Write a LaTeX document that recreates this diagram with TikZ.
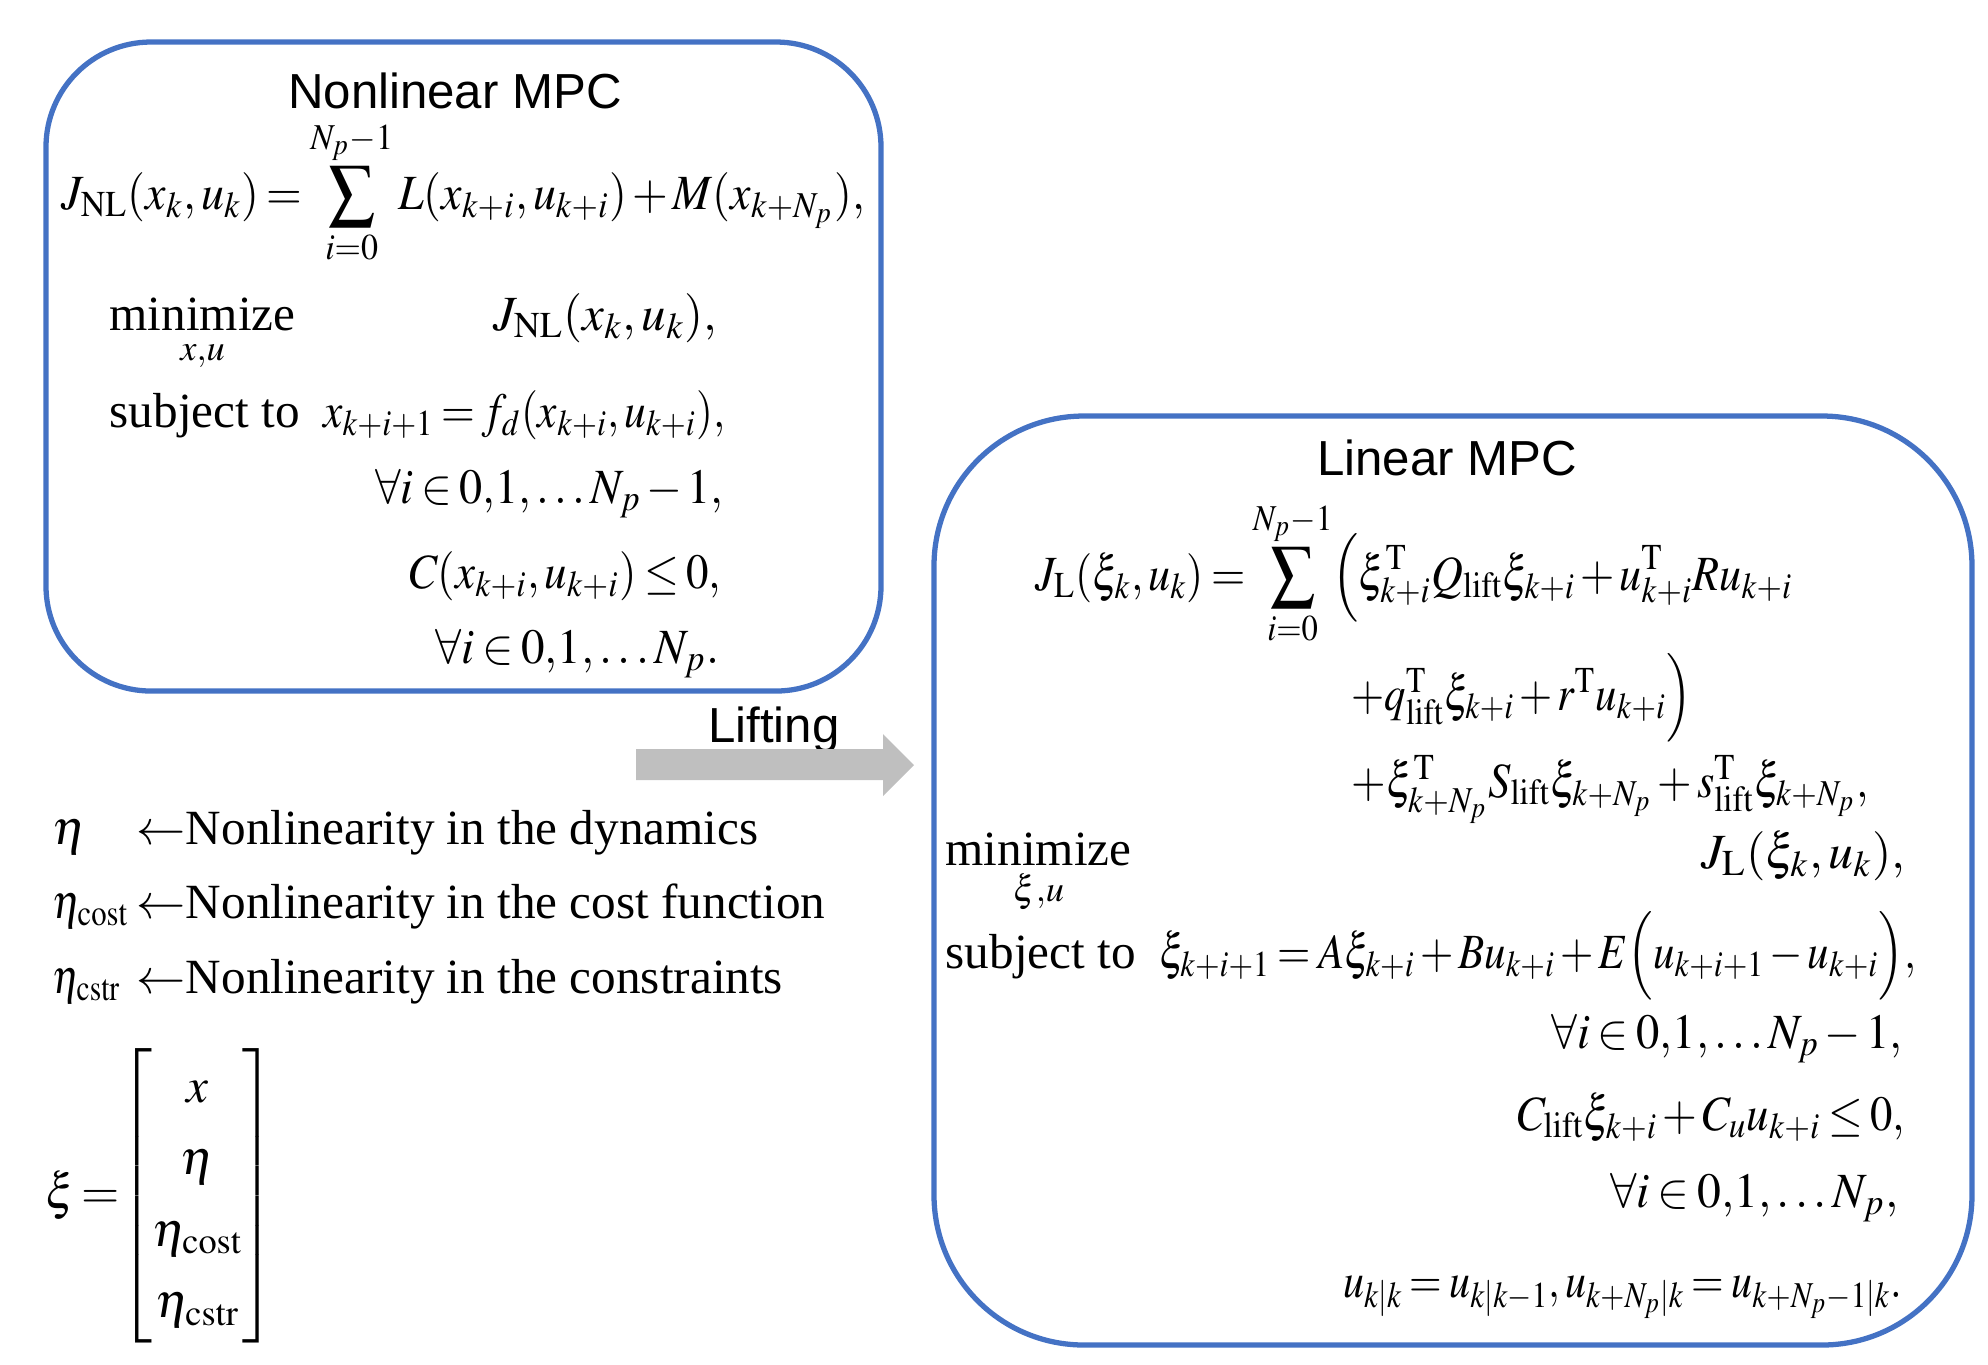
\documentclass[tikz,border=0pt]{standalone}
\usepackage{amsmath}
\usepackage{mathptmx}
\usepackage[no-math]{fontspec}
\setmainfont{Liberation Serif}
\setsansfont{Liberation Sans}
\usepackage{graphicx}
\usepackage{tikz}

\definecolor{boxblue}{HTML}{4472C4}
\definecolor{arrowgray}{HTML}{BFBFBF}

\thickmuskip=3mu plus 2mu
\medmuskip=2mu plus 1mu
\newcommand{\eqwidth}[2]{\resizebox{#1}{\height}{#2}}

\begin{document}
\begin{tikzpicture}[
  mpcbox/.style={draw=boxblue, line width=1.5pt, rounded corners=1.05cm, shape=rectangle},
  title/.style={font=\sffamily\fontsize{14}{17}\selectfont, inner sep=0pt},
  eq/.style={font=\fontsize{14}{17}\selectfont, inner sep=0pt},
]
\useasboundingbox (0,0) rectangle (19.88,-13.64);

\node[mpcbox, minimum width=8.35cm, minimum height=6.49cm] (nlbox) at (4.635,-3.665) {};
\node[mpcbox, rounded corners=1.5cm, minimum width=10.38cm, minimum height=9.29cm] (lbox) at (14.53,-8.805) {};

\node[title, anchor=base] (nltitle) at (4.55,-1.08) {Nonlinear MPC};
\node[eq, anchor=base west] (nlcost) at (0.61,-2.09) {\eqwidth{8.03cm}{$\displaystyle J_{\mathrm{NL}}(x_k,u_k)=\sum_{i=0}^{N_p-1}L(x_{k+i},u_{k+i})+M(x_{k+N_p}),$}};
\node[eq, anchor=base west] (nlmin) at (1.09,-3.30) {$\underset{x,u}{\text{minimize}}$};
\node[eq, anchor=base east] (nlobj) at (7.18,-3.30) {\eqwidth{2.24cm}{$J_{\mathrm{NL}}(x_k,u_k),$}};
\node[eq, anchor=base west] (nlsubj) at (1.09,-4.27) {subject to};
\node[eq, anchor=base east] (nldyn) at (7.26,-4.27) {\eqwidth{4.02cm}{$x_{k+i+1}=f_d(x_{k+i},u_{k+i}),$}};
\node[eq, anchor=base east] (nldynrange) at (7.24,-5.03) {\eqwidth{3.48cm}{$\forall i\in 0{,}1{,}\ldots N_p-1,$}};
\node[eq, anchor=base east] (nlcstr) at (7.22,-5.88) {\eqwidth{3.12cm}{$C(x_{k+i},u_{k+i})\le 0,$}};
\node[eq, anchor=base east] (nlcstrrange) at (7.20,-6.63) {\eqwidth{2.84cm}{$\forall i\in 0{,}1{,}\ldots N_p.$}};

\node[title, anchor=base] (lifting) at (7.74,-7.42) {Lifting};
\fill[arrowgray] (6.36,-7.49) -- (8.83,-7.49) -- (8.83,-7.34) -- (9.14,-7.65) -- (8.83,-7.96) -- (8.83,-7.80) -- (6.36,-7.80) -- cycle;

\node[eq, anchor=base west] (etadyn) at (0.52,-8.44) {\makebox[0.84cm][l]{$\eta$}$\leftarrow$Nonlinearity in the dynamics};
\node[eq, anchor=base west] (etacost) at (0.52,-9.18) {\makebox[0.84cm][l]{\eqwidth{0.76cm}{$\eta_{\mathrm{cost}}$}}$\leftarrow$Nonlinearity in the cost function};
\node[eq, anchor=base west] (etacstr) at (0.52,-9.93) {\makebox[0.84cm][l]{\eqwidth{0.68cm}{$\eta_{\mathrm{cstr}}$}}$\leftarrow$Nonlinearity in the constraints};
\node[eq, anchor=west] (xidef) at (0.45,-11.96) {\renewcommand{\arraystretch}{1.2}\setlength{\arraycolsep}{7pt}$\xi\,{=}\!\begin{bmatrix}x\\ \eta\\ \eta_{\mathrm{cost}}\\ \eta_{\mathrm{cstr}}\end{bmatrix}$};

\node[title, anchor=base] (ltitle) at (14.47,-4.75) {Linear MPC};
\node[eq, anchor=base west] (lcost) at (10.35,-5.90) {\eqwidth{7.57cm}{$\displaystyle J_{\mathrm{L}}(\xi_k,u_k)=\sum_{i=0}^{N_p-1}\Bigl(\xi_{k+i}^{\mathrm{T}}Q_{\mathrm{lift}}\xi_{k+i}+u_{k+i}^{\mathrm{T}}Ru_{k+i}$}};
\node[eq, anchor=base west] (lcostb) at (13.51,-7.10) {\eqwidth{3.40cm}{$+q_{\mathrm{lift}}^{\mathrm{T}}\xi_{k+i}+r^{\mathrm{T}}u_{k+i}\Bigr)$}};
\node[eq, anchor=base west] (lcostc) at (13.51,-7.97) {\eqwidth{5.17cm}{$+\xi_{k+N_p}^{\mathrm{T}}S_{\mathrm{lift}}\xi_{k+N_p}+s_{\mathrm{lift}}^{\mathrm{T}}\xi_{k+N_p},$}};
\node[eq, anchor=base west] (lmin) at (9.45,-8.65) {$\underset{\xi,u}{\text{minimize}}$};
\node[eq, anchor=base east] (lobj) at (19.06,-8.68) {\eqwidth{2.04cm}{$J_{\mathrm{L}}(\xi_k,u_k),$}};
\node[eq, anchor=base west] (lsubj) at (9.45,-9.68) {subject to};
\node[eq, anchor=base east] (ldyn) at (19.17,-9.68) {\eqwidth{7.57cm}{$\xi_{k+i+1}=A\xi_{k+i}+Bu_{k+i}+E\Bigl(u_{k+i+1}-u_{k+i}\Bigr),$}};
\node[eq, anchor=base east] (ldynrange) at (19.03,-10.48) {\eqwidth{3.51cm}{$\forall i\in 0{,}1{,}\ldots N_p-1,$}};
\node[eq, anchor=base east] (lcstr) at (19.06,-11.30) {\eqwidth{3.88cm}{$C_{\mathrm{lift}}\xi_{k+i}+C_u u_{k+i}\le 0,$}};
\node[eq, anchor=base east] (lcstrrange) at (18.99,-12.07) {\eqwidth{2.88cm}{$\forall i\in 0{,}1{,}\ldots N_p,$}};
\node[eq, anchor=base east] (linit) at (19.03,-12.97) {\eqwidth{5.59cm}{$u_{k|k}=u_{k|k-1},u_{k+N_p|k}=u_{k+N_p-1|k}.$}};

\end{tikzpicture}
\end{document}
